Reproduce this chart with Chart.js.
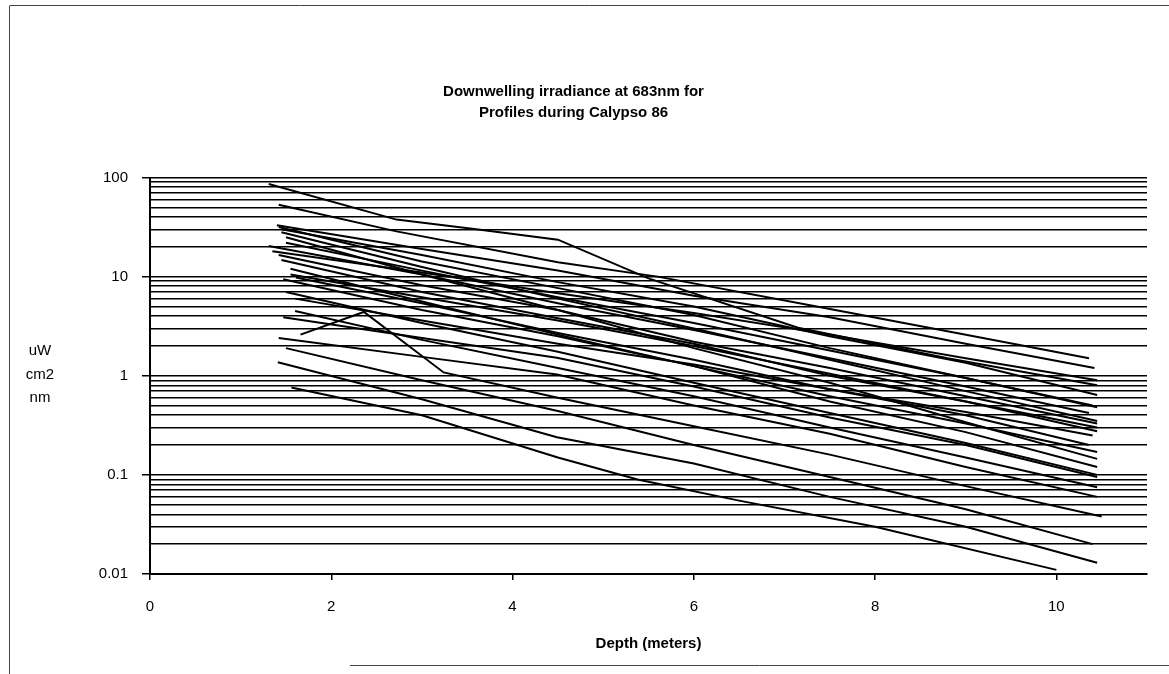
<!DOCTYPE html>
<html>
<head>
<meta charset="utf-8">
<script src="https://cdn.jsdelivr.net/npm/chart.js@4.4.1/dist/chart.umd.min.js"></script>
<style>
  html, body { margin: 0; padding: 0; background: #fff; }
  #wrap { position: relative; width: 1169px; height: 674px; }
</style>
</head>
<body>
<div id="wrap"><canvas id="irrChart" width="1169" height="674"></canvas></div>
<script>
// Text
const titleLines = ['Downwelling irradiance at 683nm for', 'Profiles during Calypso 86'];
const xTitle = 'Depth (meters)';
const yTitleLines = ['uW', 'cm2', 'nm'];

// Axis ticks
const depthTicks = [0, 2, 4, 6, 8, 10];
const irrGrid = [0.01, 0.02, 0.03, 0.04, 0.05, 0.06, 0.07, 0.08, 0.09,
                 0.1, 0.2, 0.3, 0.4, 0.5, 0.6, 0.7, 0.8, 0.9,
                 1, 2, 3, 4, 5, 6, 7, 8, 9,
                 10, 20, 30, 40, 50, 60, 70, 80, 90, 100];
const irrLabels = [0.01, 0.1, 1, 10, 100];

// Profiles: depth (m) and irradiance (uW/cm2/nm)
const depthA = [1.31, 2.72, 3.6, 4.5, 5.5, 7.15, 8.8, 10.45];
const irrA   = [86, 37.6, 30, 23.6, 9.6, 3.05, 1.5, 0.8];
const depthB = [1.42, 2.72, 4.5, 5.6, 7.4, 8.9, 10.36];
const irrB   = [53, 28.6, 14, 10, 4.9, 2.7, 1.5];
const depthC = [1.42, 3.0, 4.49, 6.0, 7.5, 9.0, 10.45];
const irrC   = [31.6, 14.2, 7.7, 4.1, 1.9, 0.95, 0.48];
const depthD = [1.45, 3.0, 4.5, 6.0, 7.5, 9.0, 10.45];
const irrD   = [30, 16.5, 8.8, 5.0, 2.5, 1.35, 0.64];
const depthE = [1.40, 3.0, 4.5, 6.0, 7.5, 9.0, 10.42];
const irrE   = [33, 19, 11.5, 6.4, 3.9, 2.1, 1.2];
const depthF = [1.31, 3.0, 4.5, 6.0, 7.5, 9.0, 10.36];
const irrF   = [20.4, 10.5, 5.4, 2.9, 1.5, 0.78, 0.42];
const depthG = [1.42, 3.0, 4.5, 6.0, 7.5, 9.0, 10.45];
const irrG   = [16.5, 8.2, 4.6, 2.2, 1.2, 0.62, 0.33];
const depthH = [1.45, 3.0, 4.5, 6.0, 7.5, 9.0, 10.45];
const irrH   = [14.7, 7.0, 3.8, 2.1, 1.0, 0.55, 0.275];
const depthI = [1.61, 3.0, 4.5, 6.0, 7.5, 9.0, 10.36];
const irrI   = [9.8, 5.4, 2.7, 1.45, 0.73, 0.4, 0.2];
const depthJ = [1.47, 3.0, 4.5, 6.0, 7.5, 9.0, 10.45];
const irrJ   = [9.4, 4.6, 2.5, 1.25, 0.62, 0.33, 0.17];
const depthK = [1.47, 3.0, 4.49, 6.0, 7.5, 9.0, 10.45];
const irrK   = [3.9, 2.4, 1.52, 0.78, 0.38, 0.2, 0.095];
const depthL = [1.66, 2.36, 3.24, 4.5, 6.0, 7.5, 9.0, 10.5];
const irrL   = [2.6, 4.4, 1.08, 0.6, 0.31, 0.16, 0.077, 0.038];
const depthM = [1.42, 3.0, 4.49, 6.0, 7.5, 9.0, 10.45];
const irrM   = [2.4, 1.55, 1.03, 0.5, 0.26, 0.12, 0.06];
const depthN = [1.41, 3.0, 4.49, 6.0, 7.5, 9.0, 10.45];
const irrN   = [1.37, 0.58, 0.24, 0.13, 0.06, 0.03, 0.013];
const depthO = [1.56, 3.0, 4.5, 5.38, 6.5, 8.0, 10.0];
const irrO   = [0.76, 0.4, 0.15, 0.09, 0.055, 0.03, 0.011];
const depthP = [1.5, 3.0, 4.5, 6.0, 7.5, 9.0, 10.45];
const irrP   = [25, 10.5, 4.6, 1.9, 0.85, 0.34, 0.145];
const depthQ = [1.55, 3.0, 4.5, 6.0, 7.5, 9.0, 10.45];
const irrQ   = [12, 5.6, 2.6, 1.25, 0.55, 0.27, 0.12];
const depthR = [1.6, 3.0, 4.5, 6.0, 7.5, 9.0, 10.4];
const irrR   = [6, 3.6, 2.1, 1.3, 0.73, 0.43, 0.25];
const depthS = [1.35, 3.0, 4.5, 6.0, 7.5, 9.0, 10.45];
const irrS   = [18, 11, 6.8, 4.3, 2.6, 1.5, 0.9];
const depthT = [1.5, 3.0, 4.5, 6.0, 7.5, 9.0, 10.45];
const irrT   = [7, 3.4, 1.75, 0.85, 0.42, 0.21, 0.1];
const depthU = [1.5, 3.0, 4.5, 6.0, 7.5, 9.0, 10.4];
const irrU   = [1.9, 0.9, 0.44, 0.2, 0.095, 0.045, 0.02];
const depthV = [1.45, 3.0, 4.5, 6.0, 7.5, 9.0, 10.45];
const irrV   = [28, 12.5, 6.0, 3.0, 1.45, 0.7, 0.35];
const depthW = [1.5, 3.0, 4.5, 6.0, 7.5, 9.0, 10.4];
const irrW   = [22, 11.5, 6.2, 3.4, 1.8, 0.95, 0.5];
const depthX = [1.55, 3.0, 4.5, 6.0, 7.5, 9.0, 10.45];
const irrX   = [10.5, 6.2, 3.6, 2.0, 1.05, 0.55, 0.3];
const depthY = [1.6, 3.0, 4.5, 6.0, 7.5, 9.0, 10.45];
const irrY   = [4.5, 2.3, 1.2, 0.62, 0.3, 0.15, 0.075];

const profiles = [
  [depthA, irrA], [depthB, irrB], [depthC, irrC], [depthD, irrD], [depthE, irrE],
  [depthF, irrF], [depthG, irrG], [depthH, irrH], [depthI, irrI], [depthJ, irrJ],
  [depthK, irrK], [depthL, irrL], [depthM, irrM], [depthN, irrN], [depthO, irrO],
  [depthP, irrP], [depthQ, irrQ], [depthR, irrR], [depthS, irrS], [depthT, irrT],
  [depthU, irrU], [depthV, irrV], [depthW, irrW], [depthX, irrX], [depthY, irrY]
];

const FONT = "'Liberation Sans', Arial, Helvetica, sans-serif";

const datasets = profiles.map((p, i) => ({
  label: 'Profile ' + (i + 1),
  data: p[0].map((d, k) => ({ x: d, y: p[1][k] })),
  borderColor: '#000',
  borderWidth: 2,
  pointRadius: 0,
  fill: false,
  tension: 0
}));

// scan frame + y-axis unit label
const extrasPlugin = {
  id: 'extras',
  afterDraw(chart) {
    const ctx = chart.ctx;
    ctx.save();
    ctx.strokeStyle = '#444';
    ctx.lineWidth = 1;
    ctx.beginPath();
    ctx.moveTo(9.5, 6); ctx.lineTo(9.5, 674);
    ctx.moveTo(9.5, 5.5); ctx.lineTo(1169, 5.5);
    ctx.moveTo(350, 665.5); ctx.lineTo(1169, 665.5);
    ctx.stroke();

    ctx.fillStyle = '#000';
    ctx.font = '15px ' + FONT;
    ctx.textAlign = 'center';
    ctx.textBaseline = 'middle';
    yTitleLines.forEach((t, i) => ctx.fillText(t, 40, 351 + i * 23.5));
    ctx.restore();
  }
};

new Chart(document.getElementById('irrChart').getContext('2d'), {
  type: 'line',
  data: { datasets: datasets },
  plugins: [extrasPlugin],
  options: {
    responsive: false,
    animation: false,
    devicePixelRatio: 1,
    layout: { padding: { left: 0, right: 22, top: 0, bottom: 0 } },
    plugins: {
      legend: { display: false },
      tooltip: { enabled: false },
      title: {
        display: true,
        text: titleLines,
        color: '#000',
        font: { family: FONT, size: 15, weight: 'bold', lineHeight: 1.35 },
        padding: { top: 82, bottom: 55 }
      }
    },
    scales: {
      x: {
        type: 'linear',
        min: 0,
        max: 11,
        afterBuildTicks: s => { s.ticks = depthTicks.map(v => ({ value: v })); },
        afterFit: s => { s.height = 100; },
        grid: { drawOnChartArea: false, drawTicks: true, tickLength: 6, color: '#000', lineWidth: 1.5 },
        border: { display: true, color: '#000', width: 2 },
        ticks: { color: '#000', font: { family: FONT, size: 15 }, padding: 18, maxRotation: 0, autoSkip: false },
        title: {
          display: true,
          text: xTitle,
          color: '#000',
          font: { family: FONT, size: 15, weight: 'bold' },
          padding: { top: 0, bottom: 21 }
        }
      },
      y: {
        type: 'logarithmic',
        min: 0.01,
        max: 100,
        afterBuildTicks: s => { s.ticks = irrGrid.map(v => ({ value: v })); },
        afterFit: s => { s.width = 150; },
        grid: {
          color: '#000',
          lineWidth: 1.5,
          tickLength: 8,
          tickColor: c => (c.tick && irrLabels.includes(c.tick.value)) ? '#000' : 'rgba(0,0,0,0)'
        },
        border: { display: true, color: '#000', width: 2 },
        ticks: {
          color: '#000',
          font: { family: FONT, size: 15 },
          padding: 14,
          autoSkip: false,
          callback: v => irrLabels.includes(v) ? String(v) : ''
        }
      }
    }
  }
});
</script>
</body>
</html>
